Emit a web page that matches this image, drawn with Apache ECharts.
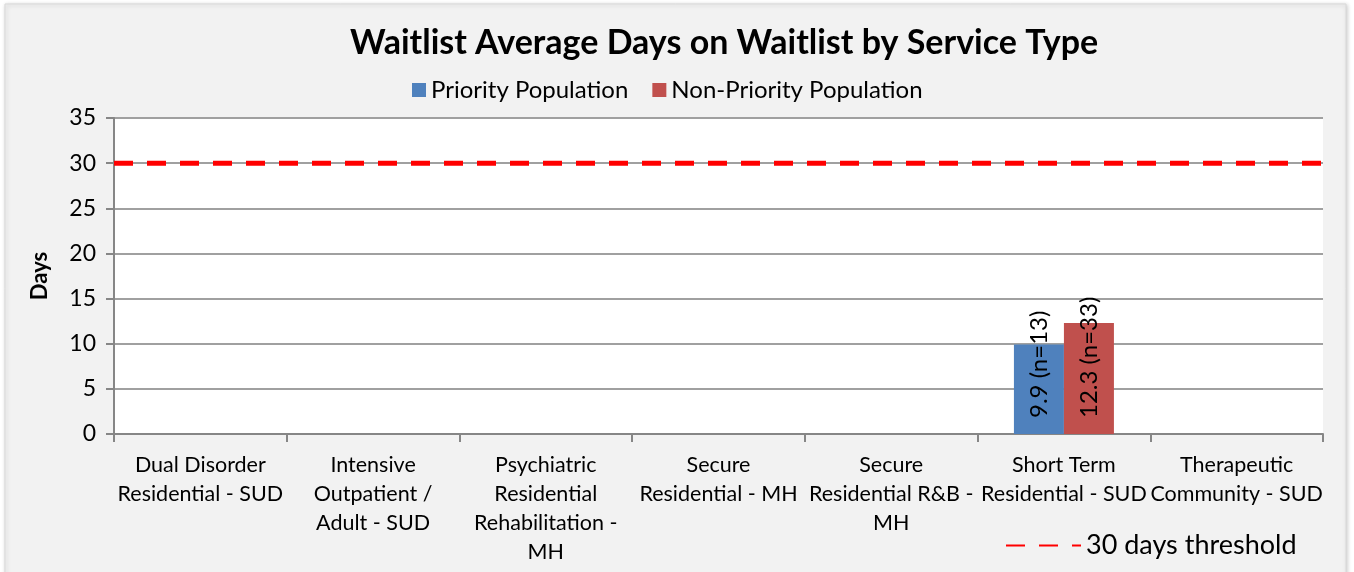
<!DOCTYPE html>
<html>
<head>
<meta charset="utf-8">
<script src="https://cdn.jsdelivr.net/npm/echarts@6/dist/echarts.min.js"></script>
<style>
  html, body { margin: 0; padding: 0; background: #ffffff; }
  #main { width: 1354px; height: 572px; }
</style>
</head>
<body>
<div id="main"></div>
<script>
// data
var categories = [
  'Dual Disorder\nResidential - SUD',
  'Intensive\nOutpatient /\nAdult - SUD',
  'Psychiatric\nResidential\nRehabilitation -\nMH',
  'Secure\nResidential - MH',
  'Secure\nResidential R&B -\nMH',
  'Short Term\nResidential - SUD',
  'Therapeutic\nCommunity - SUD'
];
var priorityDays = [null, null, null, null, null, 9.9, null];
var priorityN = [null, null, null, null, null, 13, null];
var nonPriorityDays = [null, null, null, null, null, 12.3, null];
var nonPriorityN = [null, null, null, null, null, 33, null];
var thresholdDays = 30;
var yTicks = [0, 35, 5]; // min, max, interval

var font = 'Lato';
var myChart = echarts.init(document.getElementById('main'));

function barLabel(nArr) {
  return {
    show: true,
    position: 'insideBottom',
    rotate: 90,
    align: 'left',
    verticalAlign: 'middle',
    distance: 16,
    color: '#000',
    fontFamily: font,
    fontSize: 24,
    formatter: function (p) {
      return p.value + ' (n=' + nArr[p.dataIndex] + ')';
    }
  };
}

option = {
  backgroundColor: '#ffffff',
  animation: false,
  graphic: [{
    type: 'rect',
    z: -10,
    shape: { x: 5, y: 4, width: 1341, height: 600 },
    style: { fill: '#f2f2f2', stroke: '#d9d9d9', lineWidth: 1,
      shadowBlur: 4, shadowColor: 'rgba(0,0,0,0.2)', shadowOffsetX: 1, shadowOffsetY: 1 }
  }],
  title: {
    text: 'Waitlist Average Days on Waitlist by Service Type',
    left: 345,
    top: 21,
    textStyle: { fontFamily: font, fontSize: 34, fontWeight: 'bold', color: '#000' }
  },
  legend: [
    {
      data: ['Priority Population', 'Non-Priority Population'],
      top: 73,
      left: 407,
      itemWidth: 14,
      itemHeight: 14,
      itemGap: 24,
      itemTextGap: 6,
      icon: 'rect',
      textStyle: { fontFamily: font, fontSize: 24, color: '#000' }
    },
    {
      data: [{ name: '30 days threshold', itemStyle: { opacity: 0 } }],
      left: 1000,
      top: 527,
      itemWidth: 75,
      itemHeight: 5,
      itemTextGap: 9,
      textStyle: { fontFamily: font, fontSize: 27, color: '#000' }
    }
  ],
  grid: {
    left: 114, right: 31, top: 118, bottom: 138,
    show: true, backgroundColor: '#ffffff', borderWidth: 0
  },
  xAxis: [
    {
      type: 'category',
      data: categories,
      axisLine: { lineStyle: { color: '#868686', width: 2 } },
      axisTick: { show: true, length: 8, lineStyle: { color: '#868686', width: 2 } },
      axisLabel: {
        interval: 0, color: '#000', fontFamily: font, fontSize: 21.5,
        lineHeight: 29, margin: 17
      }
    },
    { type: 'value', min: 0, max: 1, show: false }
  ],
  yAxis: {
    type: 'value',
    min: yTicks[0], max: yTicks[1], interval: yTicks[2],
    name: 'Days',
    nameLocation: 'middle',
    nameGap: 63,
    nameTextStyle: { fontFamily: font, fontSize: 22, fontWeight: 'bold', color: '#000' },
    axisLine: { show: true, lineStyle: { color: '#868686', width: 2 } },
    axisTick: { show: true, length: 8, lineStyle: { color: '#868686', width: 2 } },
    axisLabel: { color: '#000', fontFamily: font, fontSize: 23, margin: 18 },
    splitLine: { lineStyle: { color: '#a0a0a0', width: 2 } }
  },
  series: [
    {
      name: 'Priority Population',
      type: 'bar',
      data: priorityDays,
      barWidth: 50,
      barGap: '0%',
      itemStyle: { color: '#4f81bd' },
      label: barLabel(priorityN)
    },
    {
      name: 'Non-Priority Population',
      type: 'bar',
      data: nonPriorityDays,
      barWidth: 50,
      barGap: '0%',
      itemStyle: { color: '#c0504d' },
      label: barLabel(nonPriorityN)
    },
    {
      name: '30 days threshold',
      type: 'line',
      xAxisIndex: 1,
      data: [[0, thresholdDays], [1, thresholdDays]],
      symbol: 'none',
      itemStyle: { color: '#ff0000' },
      lineStyle: { color: '#ff0000', width: 5, type: [19, 14] },
      z: 5
    }
  ]
};

myChart.setOption(option);
</script>
</body>
</html>
